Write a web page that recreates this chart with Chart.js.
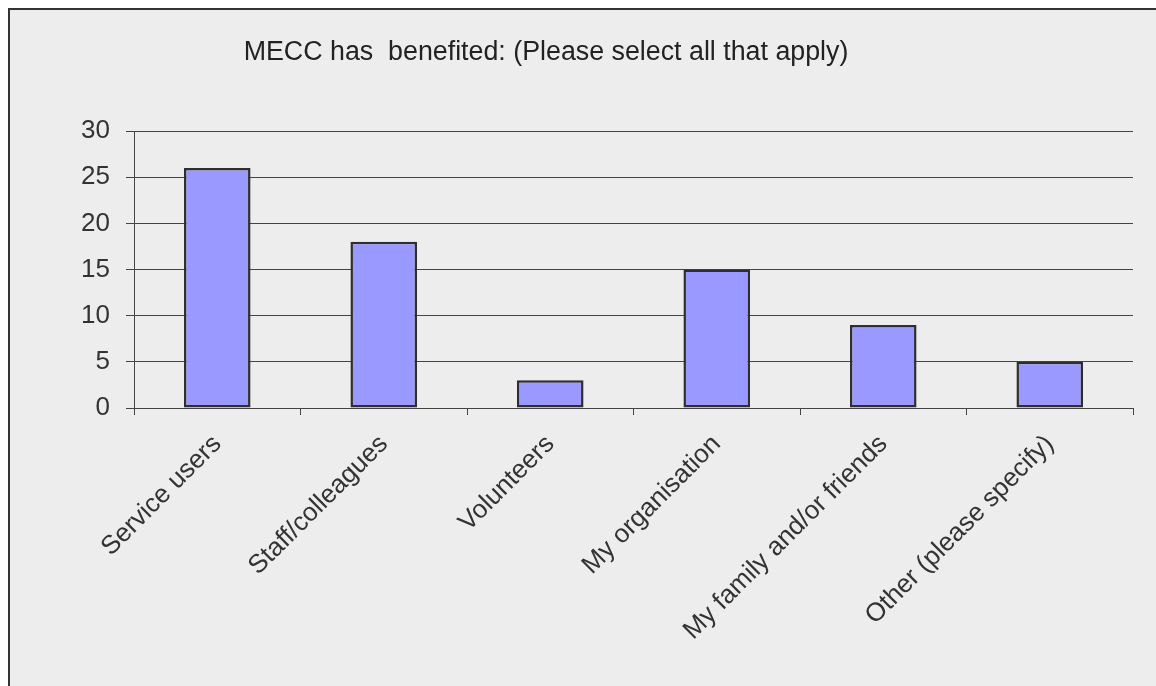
<!DOCTYPE html>
<html>
<head>
<meta charset="utf-8">
<script src="https://cdn.jsdelivr.net/npm/chart.js@4/dist/chart.umd.min.js"></script>
<style>
  html, body { margin: 0; padding: 0; background: #fff; }
  #wrap { position: absolute; left: 0; top: 0; width: 1156px; height: 686px; }
  #frame {
    position: absolute; left: 8px; top: 8px; right: 0; bottom: 0;
    background: #ededed; border-left: 2px solid #333; border-top: 2px solid #333;
  }
  canvas { position: absolute; left: 0; top: 0; }
</style>
</head>
<body>
<div id="wrap">
  <div id="frame"></div>
  <canvas id="bars" width="1156" height="686"></canvas>
</div>
<script>
const title = 'MECC has  benefited: (Please select all that apply)';
const categories = ['Service users', 'Staff/colleagues', 'Volunteers', 'My organisation', 'My family and/or friends', 'Other (please specify)'];
const counts = [26, 18, 3, 15, 9, 5];
const yTicks = { min: 0, max: 30, step: 5 };

const FONT = '"Liberation Sans", Arial, sans-serif';

// title sits a little left of the plot centre, drawn straight on the canvas
const titlePlugin = {
  id: 'topTitle',
  afterDraw(chart) {
    const ctx = chart.ctx;
    ctx.save();
    ctx.font = '26.8px ' + FONT;
    ctx.fillStyle = '#222';
    ctx.textAlign = 'center';
    ctx.textBaseline = 'middle';
    ctx.fillText(title, 546, 53);
    ctx.restore();
  }
};

new Chart(document.getElementById('bars'), {
  type: 'bar',
  data: {
    labels: categories,
    datasets: [{
      data: counts,
      backgroundColor: '#9999ff',
      borderColor: '#2e2e2e',
      borderWidth: 2.5,
      borderSkipped: false,
      barPercentage: 0.4,
      categoryPercentage: 1
    }]
  },
  options: {
    responsive: false,
    animation: false,
    layout: { padding: { top: 131, right: 23, left: 0, bottom: 0 } },
    plugins: { legend: { display: false }, tooltip: { enabled: false } },
    scales: {
      x: {
        grid: { drawOnChartArea: false, tickLength: 7, color: '#444' },
        border: { color: '#444' },
        ticks: {
          color: '#333', font: { family: FONT, size: 26 },
          minRotation: 45, maxRotation: 45, padding: 14
        },
        afterFit(scale) { scale.height = 278; }
      },
      y: {
        min: yTicks.min, max: yTicks.max,
        grid: { color: '#444', tickLength: 8 },
        border: { color: '#444' },
        ticks: { stepSize: yTicks.step, color: '#333', font: { family: FONT, size: 26 }, padding: 16 },
        afterFit(scale) { scale.width = 134; }
      }
    }
  },
  plugins: [titlePlugin]
});
</script>
</body>
</html>
